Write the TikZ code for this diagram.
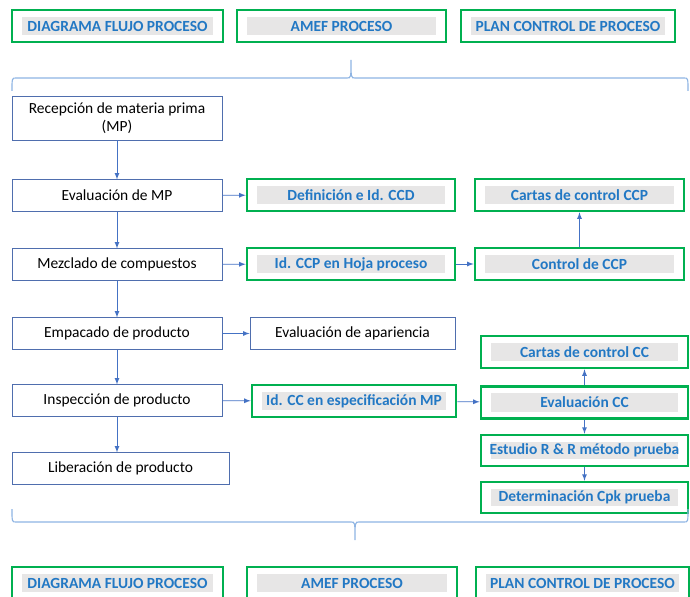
\documentclass[tikz,border=0pt]{standalone}
\usepackage{fontspec}
\setmainfont{Carlito}
\usetikzlibrary{arrows}

\definecolor{boxgreen}{HTML}{00B050}
\definecolor{labelblue}{HTML}{2278C4}
\definecolor{labelgrey}{HTML}{E7E6E6}
\definecolor{flowblue}{HTML}{4472C4}
\definecolor{edgeblue}{HTML}{4F6EAE}
\definecolor{braceblue}{HTML}{8EB4E3}

\tikzset{
  procbox/.style={draw=edgeblue, line width=0.6pt, fill=white, align=center,
    font=\fontsize{11}{13}\selectfont, minimum width=5.25cm, minimum height=0.78cm},
  greenbox/.style={draw=boxgreen, line width=1.9pt, fill=white, text=labelblue,
    font=\fontsize{11}{13}\selectfont\bfseries, minimum width=5.2cm, minimum height=0.8cm,
    path picture={\fill[labelgrey] ([xshift=0.25cm,yshift=-0.17cm]path picture bounding box.north west)
      rectangle ([xshift=-0.25cm,yshift=0.17cm]path picture bounding box.south east);}},
  flow/.style={draw=flowblue, line width=0.6pt, -latex},
  brace/.style={draw=braceblue, line width=0.8pt}
}

\begin{document}
\begin{tikzpicture}[x=0.025cm, y=-0.025cm]
		\useasboundingbox (0,0) rectangle (690,597);
		% headers
		\node[greenbox, minimum width=5.275cm] (dfpa) at (117.5,26) {DIAGRAMA FLUJO PROCESO};
		\node[greenbox, minimum width=5.225cm] (amefa) at (341.5,26) {AMEF PROCESO};
		\node[greenbox, minimum width=5.35cm] (pcpa) at (568,26) {PLAN CONTROL DE PROCESO};
		\draw[brace] (12,91) .. controls (12,78) .. (16,78) -- (347,78) .. controls (351,78) .. (351,60)
			.. controls (351,78) .. (355,78) -- (684,78) .. controls (688,78) .. (688,91);
		% flujo de proceso
		\node[procbox, minimum height=1.1cm] (recep) at (117,118) {Recepción de materia prima\\(MP)};
		\node[procbox] (evalmp) at (117,195.5) {Evaluación de MP};
		\node[procbox] (mezcl) at (117,264.5) {Mezclado de compuestos};
		\node[procbox] (empac) at (117,333.5) {Empacado de producto};
		\node[procbox] (inspec) at (117,400.5) {Inspección de producto};
		\node[procbox, minimum width=5.425cm] (liber) at (120.5,468.5) {Liberación de producto};
		\draw[flow] (recep) -- (evalmp);
		\draw[flow] (evalmp) -- (mezcl);
		\draw[flow] (mezcl) -- (empac);
		\draw[flow] (empac) -- (inspec);
		\draw[flow] (inspec.south) -- (inspec.south |- liber.north);
		% AMEF
		\node[greenbox] (defccd) at (351,195) {Definición e Id. CCD};
		\node[greenbox] (idccp) at (351,264) {Id. CCP en Hoja proceso};
		\node[procbox, minimum width=5.125cm] (evapar) at (352.5,333.5) {Evaluación de apariencia};
		\node[greenbox, minimum width=5.1cm] (idcc) at (354,401) {Id. CC en especificación MP};
		\draw[flow] (evalmp) -- (defccd);
		\draw[flow] (mezcl) -- (idccp);
		\draw[flow] (empac) -- (evapar);
		\draw[flow] (inspec) -- (idcc);
		% plan de control
		\node[greenbox, minimum width=5.225cm] (cartasccp) at (579.5,195) {Cartas de control CCP};
		\node[greenbox, minimum width=5.225cm] (ctrlccp) at (579.5,264) {Control de CCP};
		\node[greenbox, minimum width=5.175cm] (cartascc) at (584.5,352) {Cartas de control CC};
		\node[greenbox, minimum width=5.175cm] (evalcc) at (584.5,402.5) {Evaluación CC};
		\node[greenbox, minimum width=5.175cm, minimum height=0.77cm] (estudio) at (584.5,450.5) {Estudio R \& R método prueba};
		\node[greenbox, minimum width=5.175cm, minimum height=0.77cm] (determ) at (584.5,497.5) {Determinación Cpk prueba};
		\draw[flow] (idccp) -- (ctrlccp);
		\draw[flow] (ctrlccp) -- (cartasccp);
		\draw[flow] (idcc) -- (evalcc);
		\draw[flow] (evalcc) -- (cartascc);
		\draw[flow] (evalcc) -- (estudio);
		\draw[flow] (estudio) -- (determ);
		% footers
		\draw[brace] (12,509) .. controls (12,522) .. (16,522) -- (351,522) .. controls (355,522) .. (355,540)
			.. controls (355,522) .. (359,522) -- (684,522) .. controls (688,522) .. (688,509);
		\node[greenbox, minimum width=5.275cm, minimum height=0.8cm] (dfpb) at (117.5,583) {DIAGRAMA FLUJO PROCESO};
		\node[greenbox, minimum width=5.25cm, minimum height=0.8cm] (amefb) at (352,583) {AMEF PROCESO};
		\node[greenbox, minimum width=5.325cm, minimum height=0.8cm] (pcpb) at (582.5,583) {PLAN CONTROL DE PROCESO};
		\end{tikzpicture}
\end{document}
